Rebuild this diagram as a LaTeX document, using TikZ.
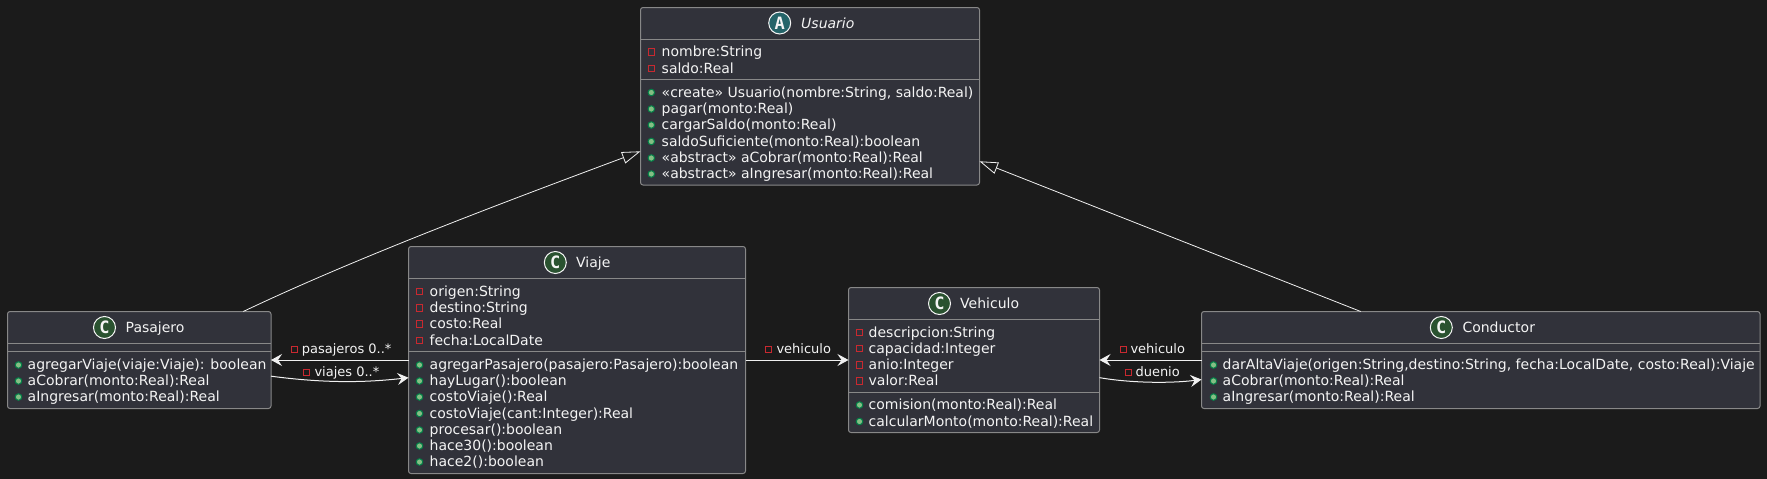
\documentclass[tikz,border=0pt]{standalone}
\usepackage{fontspec}
\setmainfont{DejaVu Sans}
\newfontfamily\iconfont{DejaVu Sans Mono}
\usetikzlibrary{arrows.meta,shapes}
\definecolor{bgcol}{HTML}{1B1B1B}
\definecolor{boxcol}{HTML}{31323A}
\definecolor{bordercol}{HTML}{888888}
\definecolor{textcol}{HTML}{F4F4F4}
\definecolor{linecol}{HTML}{F0F0F0}
\definecolor{privcol}{HTML}{C82930}
\definecolor{pubcol}{HTML}{84BE84}
\definecolor{pubedge}{HTML}{038048}
\definecolor{ciconcol}{HTML}{2A5230}
\definecolor{aiconcol}{HTML}{256469}
\tikzstyle{classbox}=[rectangle,draw=bordercol,fill=boxcol,line width=1pt,rounded corners=2.5pt,inner sep=0pt,outer sep=0pt]
\tikzstyle{sepline}=[draw=bordercol,line width=1pt]
\tikzstyle{member}=[anchor=base west,inner sep=0pt,text=textcol,font=\fontsize{14}{16}\selectfont]
\tikzstyle{linklabel}=[anchor=base west,inner sep=0pt,text=textcol,font=\fontsize{13}{15}\selectfont]
\tikzstyle{privicon}=[rectangle,draw=privcol,line width=1pt,minimum size=6.5pt,inner sep=0pt]
\tikzstyle{pubicon}=[circle,draw=pubedge,fill=pubcol,line width=1pt,minimum size=6.5pt,inner sep=0pt]
\tikzstyle{classicon}=[circle,draw=textcol,line width=1pt,minimum size=22pt,inner sep=0pt,text=textcol,font=\iconfont\bfseries\fontsize{17}{17}\selectfont]
\tikzstyle{assoc}=[draw=linecol,line width=1pt,-{Stealth[length=11pt,width=12pt,inset=4pt]}]
\tikzstyle{genline}=[draw=linecol,line width=.8pt,-{Triangle[open,length=18.5pt,width=12pt]}]

\begin{document}
\begin{tikzpicture}[x=1pt,y=-1pt]
    \useasboundingbox (0,0) rectangle (1767,479);
    \fill[bgcol] (0,0) rectangle (1767,479);

    % classes
    \node[classbox, minimum width=339pt, minimum height=177.5pt] (usuario) at (810,96.25) {};
    \node[classbox, minimum width=263.5pt, minimum height=97pt] (pasajero) at (139.25,360) {};
    \node[classbox, minimum width=337pt, minimum height=227pt] (viaje) at (577,360) {};
    \node[classbox, minimum width=251pt, minimum height=145pt] (vehiculo) at (974,360) {};
    \node[classbox, minimum width=558.5pt, minimum height=97pt] (conductor) at (1480.75,360) {};

    \foreach \nm/\y in {usuario/39.5, usuario/79.5, pasajero/343.5, pasajero/351.5, viaje/278.5, viaje/351.5, vehiculo/319.5, vehiculo/392.5, conductor/343.5, conductor/351.5}
        \draw[sepline] (\nm.west |- 0,\y) -- (\nm.east |- 0,\y);

    % headers
    \node[classicon, fill=aiconcol] (usuarioicon) at (779.7,23) {A};
    \node[member, font=\fontsize{14}{16}\selectfont\itshape] (usuariotitle) at (801,28) {Usuario};
    \foreach \nm/\ix/\iy/\tx/\ty/\txt in {pasajero/104.5/327.5/125.5/332/Pasajero, viaje/555.3/262.5/576/267.5/Viaje, vehiculo/939.5/303.5/960/308.5/Vehiculo, conductor/1441.3/327.5/1462.3/332/Conductor}{
        \node[classicon, fill=ciconcol] (\nm icon) at (\ix,\iy) {C};
        \node[member] (\nm title) at (\tx,\ty) {\txt};
    }

    % private attributes
    \foreach \name/\ix/\tx/\y/\txt in {ua/651.3/661.5/56.5/nombre:String, ub/651.3/661.5/73/saldo:Real,
        va/419.5/429.5/296/origen:String, vb/419.5/429.5/312.5/destino:String, vc/419.5/429.5/328.5/costo:Real, vd/419.5/429.5/345/fecha:LocalDate,
        wa/859.5/868.5/337/descripcion:String, wb/859.5/868.5/353/capacidad:Integer, wc/859.5/868.5/369.5/anio:Integer, wd/859.5/868.5/385.5/valor:Real}{
        \node[privicon] (\name icon) at (\ix,\y-4.5) {};
        \node[member] (\name) at (\tx,\y) {\txt};
    }

    % public methods
    \foreach \name/\ix/\tx/\y/\txt in {um/651.3/661.5/97/{«create» Usuario(nombre:String, saldo:Real)}, un/651.3/661.5/113.5/pagar(monto:Real), uo/651.3/661.5/129.5/cargarSaldo(monto:Real), up/651.3/661.5/146/saldoSuficiente(monto:Real):boolean, uq/651.3/661.5/162.5/«abstract» aCobrar(monto:Real):Real, ur/651.3/661.5/178.5/«abstract» aIngresar(monto:Real):Real,
        pm/18.5/27.5/369.5/{agregarViaje(viaje:Viaje): boolean}, pn/18.5/27.5/385.5/aCobrar(monto:Real):Real, po/18.5/27.5/401.5/aIngresar(monto:Real):Real,
        vm/419.5/429.5/369.5/agregarPasajero(pasajero:Pasajero):boolean, vn/419.5/429.5/385.5/hayLugar():boolean, vo/419.5/429.5/401.5/costoViaje():Real, vp/419.5/429.5/418/costoViaje(cant:Integer):Real, vq/419.5/429.5/434.5/procesar():boolean, vr/419.5/429.5/450.5/hace30():boolean, vs/419.5/429.5/466.5/hace2():boolean,
        wm/859.5/868.5/409.5/comision(monto:Real):Real, wn/859.5/868.5/426/calcularMonto(monto:Real):Real,
        cm/1213.5/1222.5/369.5/{darAltaViaje(origen:String,destino:String, fecha:LocalDate, costo:Real):Viaje}, cn/1213.5/1222.5/385.5/aCobrar(monto:Real):Real, co/1213.5/1222.5/401.5/aIngresar(monto:Real):Real}{
        \node[pubicon] (\name icon) at (\ix,\y-4.5) {};
        \node[member] (\name) at (\tx,\y) {\txt};
    }

    % links
    \path[genline] (pasajero.25.3) .. controls (360,256) and (510,200) .. (usuario.198.82);
    \path[genline] (conductor.158.12) -- (usuario.-21.6);
    \path[assoc] (viaje.west) -- (pasajero.east);
    \path[assoc] (pasajero.-7.35) .. controls (330,384) and (370,382) .. (viaje.186.67);
    \path[assoc] (viaje.east) -- (vehiculo.west);
    \path[assoc] (conductor.west) -- (vehiculo.east);
    \path[assoc] (vehiculo.-8.3) .. controls (1130,383) and (1170,383.5) .. (conductor.184.57);

    % link labels
    \foreach \name/\ix/\tx/\y/\txt in {la/294.3/301.7/353.5/pasajeros 0..*, lb/306.3/314.3/376.5/viajes 0..*, lc/768.3/776.3/353.5/vehiculo, ld/1123.3/1130.3/353.5/vehiculo, le/1128.3/1135.3/376.5/duenio}{
        \node[privicon] (\name icon) at (\ix,\y-4) {};
        \node[linklabel] (\name) at (\tx,\y) {\txt};
    }
\end{tikzpicture}
\end{document}
